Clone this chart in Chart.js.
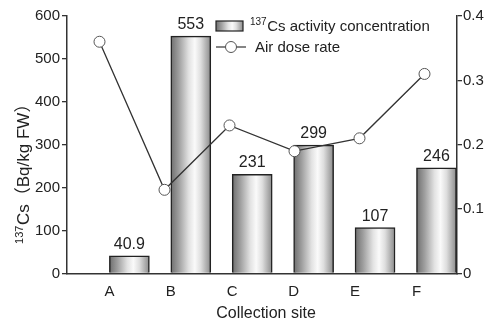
<!DOCTYPE html>
<html>
<head>
<meta charset="utf-8">
<script src="https://cdn.jsdelivr.net/npm/chart.js@4"></script>
<style>
  html, body { margin: 0; padding: 0; background: #fff; overflow: hidden; }
  #wrap { width: 486px; height: 323px; position: relative; }
</style>
</head>
<body>
<div id="wrap"><canvas id="c" width="486" height="323"></canvas></div>
<script>
// Collection sites and measured values
const categories = ['A', 'B', 'C', 'D', 'E', 'F'];
const csActivity = [40.9, 553, 231, 299, 107, 246];        // 137Cs, Bq/kg FW
const airDoseRate = [0.36, 0.13, 0.23, 0.19, 0.21, 0.31];   // air dose rate
const csTicks = [0, 100, 200, 300, 400, 500, 600];
const doseTicks = [0, 0.1, 0.2, 0.3, 0.4];

const FONT = '"Liberation Sans", Arial, "Noto Sans CJK JP", sans-serif';
const TEXT = '#222';
const AXIS = '#333';

// horizontal "cylinder" shading used for the bars and the legend swatch
function barGradient(ctx, left, right) {
  const g = ctx.createLinearGradient(left, 0, right, 0);
  g.addColorStop(0, '#6e6e6e');
  g.addColorStop(0.2, '#9e9e9e');
  g.addColorStop(0.45, '#e2e2e2');
  g.addColorStop(0.6, '#fafafa');
  g.addColorStop(0.75, '#dedede');
  g.addColorStop(1, '#8a8a8a');
  return g;
}

// text with a leading superscript (e.g. 137Cs)
function drawSupText(ctx, x, y, sup, main, supSize, mainSize) {
  ctx.font = supSize + 'px ' + FONT;
  ctx.fillText(sup, x, y - mainSize * 0.38);
  const w = ctx.measureText(sup).width;
  ctx.font = mainSize + 'px ' + FONT;
  ctx.fillText(main, x + w + 0.5, y);
}

const annotations = {
  id: 'annotations',
  beforeDatasetsDraw(chart) {
    // give every bar its own shading, spanning its left to right edge
    const meta = chart.getDatasetMeta(1);
    meta.data.forEach((bar) => {
      const half = bar.width / 2;
      bar.options = Object.assign({}, bar.options, {
        backgroundColor: barGradient(chart.ctx, bar.x - half, bar.x + half)
      });
    });
  },
  afterDatasetsDraw(chart) {
    const ctx = chart.ctx;
    const meta = chart.getDatasetMeta(1);
    ctx.save();
    ctx.fillStyle = TEXT;
    ctx.font = '16px ' + FONT;
    ctx.textAlign = 'center';
    ctx.textBaseline = 'alphabetic';
    meta.data.forEach((bar, i) => {
      ctx.fillText(String(csActivity[i]), bar.x, bar.y - 7);
    });
    ctx.restore();
  },
  afterDraw(chart) {
    const ctx = chart.ctx;
    ctx.save();
    ctx.fillStyle = TEXT;
    ctx.textAlign = 'left';
    ctx.textBaseline = 'alphabetic';

    // legend: bar swatch
    const sx = 216, sy = 21, sw = 27, sh = 10;
    ctx.fillStyle = barGradient(ctx, sx, sx + sw);
    ctx.fillRect(sx, sy, sw, sh);
    ctx.strokeStyle = '#222';
    ctx.lineWidth = 1.2;
    ctx.strokeRect(sx, sy, sw, sh);
    ctx.fillStyle = TEXT;
    drawSupText(ctx, 250, 31, '137', 'Cs activity concentration', 10, 15);

    // legend: line with marker
    ctx.strokeStyle = AXIS;
    ctx.lineWidth = 1.2;
    ctx.beginPath();
    ctx.moveTo(216, 47);
    ctx.lineTo(246, 47);
    ctx.stroke();
    ctx.beginPath();
    ctx.arc(231, 47, 5.5, 0, Math.PI * 2);
    ctx.fillStyle = '#fff';
    ctx.fill();
    ctx.strokeStyle = '#555';
    ctx.lineWidth = 1;
    ctx.stroke();
    ctx.fillStyle = TEXT;
    ctx.font = '15px ' + FONT;
    ctx.fillText('Air dose rate', 255, 52);

    // x axis title
    ctx.textAlign = 'center';
    ctx.font = '16px ' + FONT;
    ctx.fillText('Collection site', 266, 318);

    // y axis title, rotated
    ctx.translate(29, 170);
    ctx.rotate(-Math.PI / 2);
    ctx.textAlign = 'left';
    const supW = (() => { ctx.font = '11px ' + FONT; return ctx.measureText('137').width; })();
    ctx.font = '17px ' + FONT;
    const mainW = ctx.measureText('Cs（Bq/kg FW）').width;
    drawSupText(ctx, -(supW + mainW) / 2, 0, '137', 'Cs（Bq/kg FW）', 11, 17);
    ctx.restore();
  }
};

new Chart(document.getElementById('c'), {
  data: {
    labels: categories,
    datasets: [
      {
        type: 'line',
        label: 'Air dose rate',
        data: airDoseRate,
        xAxisID: 'xLine',
        yAxisID: 'yDose',
        borderColor: AXIS,
        borderWidth: 1.3,
        tension: 0,
        pointRadius: 5.5,
        pointHoverRadius: 5.5,
        pointBackgroundColor: '#fff',
        pointBorderColor: '#555',
        pointBorderWidth: 1,
        order: 0
      },
      {
        type: 'bar',
        label: '137Cs activity concentration',
        data: csActivity.map((v, i) => ({ x: i, y: v })),
        xAxisID: 'x',
        yAxisID: 'y',
        barThickness: 40,
        borderColor: '#222',
        borderWidth: 1.5,
        borderSkipped: 'bottom',
        backgroundColor: '#bbb',
        order: 1
      }
    ]
  },
  options: {
    responsive: false,
    animation: false,
    events: [],
    layout: { padding: { top: 16, left: 0, right: 0, bottom: 0 } },
    plugins: { legend: { display: false }, tooltip: { enabled: false } },
    scales: {
      x: {
        type: 'linear',
        position: 'bottom',
        offset: false,
        min: -0.69,
        max: 5.66,
        bounds: 'data',
        afterBuildTicks(axis) { axis.ticks = categories.map((_, i) => ({ value: i })); },
        afterFit(axis) { axis.height = 49.5; },
        ticks: {
          callback: (v) => categories[v],
          color: TEXT,
          font: { family: FONT, size: 15 },
          padding: 1,
          maxRotation: 0,
          autoSkip: false
        },
        grid: { display: false, offset: false },
        border: { display: true, color: AXIS, width: 1.5 }
      },
      xLine: {
        type: 'category',
        labels: categories,
        offset: true,
        display: false
      },
      y: {
        type: 'linear',
        position: 'left',
        min: 0,
        max: 600,
        afterBuildTicks(axis) { axis.ticks = csTicks.map(v => ({ value: v })); },
        afterFit(axis) { axis.width = 67; },
        ticks: { color: TEXT, font: { family: FONT, size: 15 }, padding: 2 },
        grid: { drawOnChartArea: false, tickLength: 5, color: AXIS, lineWidth: 1.3 },
        border: { display: true, color: AXIS, width: 1.5 }
      },
      yDose: {
        type: 'linear',
        position: 'right',
        min: 0,
        max: 0.4,
        afterBuildTicks(axis) { axis.ticks = doseTicks.map(v => ({ value: v })); },
        afterFit(axis) { axis.width = 29; },
        ticks: {
          color: TEXT,
          font: { family: FONT, size: 15 },
          padding: 1,
          callback: (v) => (v === 0 ? '0' : v.toFixed(1))
        },
        grid: { drawOnChartArea: false, tickLength: 5, color: AXIS, lineWidth: 1.3 },
        border: { display: true, color: AXIS, width: 1.5 }
      }
    }
  },
  plugins: [annotations]
});
</script>
</body>
</html>
